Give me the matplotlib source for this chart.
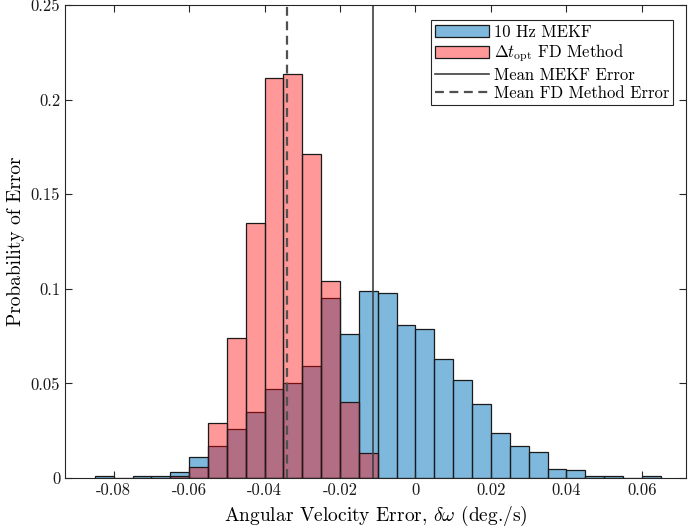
import numpy as np
import matplotlib
matplotlib.use('Agg')
import matplotlib.pyplot as plt
from matplotlib.ticker import FuncFormatter

plt.rcParams['font.family'] = 'serif'
plt.rcParams['font.serif'] = ['cmr10']
plt.rcParams['mathtext.fontset'] = 'cm'
plt.rcParams['axes.unicode_minus'] = False

bin_width = 0.005

# 10 Hz MEKF histogram, bins starting at -0.085
mekf_start = -0.085
mekf_prob = [0.001, 0.0, 0.001, 0.001, 0.003, 0.011, 0.017, 0.026, 0.035, 0.047,
             0.050, 0.059, 0.095, 0.076, 0.099, 0.098, 0.081, 0.079, 0.063, 0.052,
             0.039, 0.024, 0.017, 0.014, 0.005, 0.004, 0.001, 0.001, 0.0, 0.001]

# FD method histogram, bins starting at -0.065
fd_start = -0.065
fd_prob = [0.001, 0.006, 0.029, 0.074, 0.135, 0.2115, 0.2135, 0.1715, 0.104, 0.040, 0.013]

mean_mekf = -0.0113
mean_fd = -0.0340

mekf_edges = mekf_start + bin_width * np.arange(len(mekf_prob))
fd_edges = fd_start + bin_width * np.arange(len(fd_prob))

fig = plt.figure(figsize=(6.9, 5.31), dpi=100)
ax = fig.add_axes([0.0942, 0.0998, 0.9, 0.8908])

b1 = ax.bar(mekf_edges, mekf_prob, width=bin_width, align='edge',
            color=(0, 0.447, 0.741, 0.5), edgecolor='#1a1a1a', linewidth=0.9,
            label='10 Hz MEKF')
b2 = ax.bar(fd_edges, fd_prob, width=bin_width, align='edge',
            color=(1, 0, 0, 0.4), edgecolor='#1a1a1a', linewidth=0.9,
            label=r'$\Delta t_{\rm opt}$ FD Method')

l1 = ax.axvline(mean_mekf, color='#404040', linewidth=1.2, label='Mean MEKF Error')
l2 = ax.axvline(mean_fd, color='#505050', linewidth=1.6, linestyle=(0, (4, 2.5)),
                label='Mean FD Method Error')

ax.set_xlim(-0.0929, 0.0717)
ax.set_ylim(0, 0.25)
ax.set_xticks([-0.08, -0.06, -0.04, -0.02, 0, 0.02, 0.04, 0.06])
ax.set_yticks([0, 0.05, 0.1, 0.15, 0.2, 0.25])
fmt = FuncFormatter(lambda v, p: '%g' % round(v, 4))
ax.xaxis.set_major_formatter(fmt)
ax.yaxis.set_major_formatter(fmt)
ax.tick_params(direction='in', top=True, right=True, length=5, width=0.8,
               labelsize=12, colors='#262626', labelcolor='#1a1a1a')
for s in ax.spines.values():
    s.set_color('#262626')
    s.set_linewidth(0.8)

ax.set_xlabel(r'Angular Velocity Error, $\delta\omega$ (deg./s)', fontsize=14)
ax.set_ylabel('Probability of Error', fontsize=14)

leg = ax.legend(handles=[b1, b2, l1, l2], loc='upper right',
                bbox_to_anchor=(0.985, 0.975), fontsize=12,
                fancybox=False, framealpha=1, edgecolor='#262626',
                handlelength=3.2, handletextpad=0.3, borderpad=0.25,
                labelspacing=0.18, borderaxespad=0.2)
leg.get_frame().set_linewidth(0.8)

fig.savefig('out.png', dpi=100)
